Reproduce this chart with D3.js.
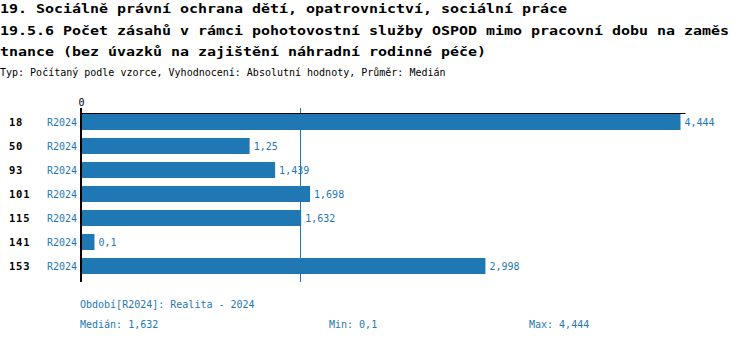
<!DOCTYPE html>
<html><head><meta charset="utf-8">
<script src="https://cdn.jsdelivr.net/npm/d3@7"></script>
<style>
html,body{margin:0;padding:0;background:#fff;}
svg{display:block;}
text{font-family:"DejaVu Sans Mono","Liberation Mono",monospace;}
</style></head>
<body>
<script>
const titleLines = [
  "19. Sociálně právní ochrana dětí, opatrovnictví, sociální práce",
  "19.5.6 Počet zásahů v rámci pohotovostní služby OSPOD mimo pracovní dobu na zaměs",
  "tnance (bez úvazků na zajištění náhradní rodinné péče)"
];
const subtitle = "Typ: Počítaný podle vzorce, Vyhodnocení: Absolutní hodnoty, Průměr: Medián";
const categories = ["18", "50", "93", "101", "115", "141", "153"];
const seriesName = "R2024";
const values = [4.444, 1.25, 1.439, 1.698, 1.632, 0.1, 2.998];
const periodNote = "Období[R2024]: Realita - 2024";
const axisTicks = [0];

const W = 750, H = 342;
const blue = "#1f77b4";
const fmt = v => String(v).replace(".", ",");

const svg = d3.select("body").append("svg").attr("width", W).attr("height", H);

// titles
const tBase = [13, 34.5, 56];
titleLines.forEach((t, i) => {
  svg.append("text").attr("x", 0).attr("y", tBase[i])
    .attr("font-size", 12.5).attr("font-weight", "bold").attr("fill", "#000")
    .attr("textLength", t.length * 9).attr("lengthAdjust", "spacingAndGlyphs")
    .text(t);
});
svg.append("text").attr("x", 0).attr("y", 76).attr("font-size", 10).attr("fill", "#000").text(subtitle);

const x = d3.scaleLinear().domain([0, d3.max(values)]).range([81, 680.5]);
const y = d3.scaleBand().domain(categories).range([110, 278]).paddingInner(1/3).paddingOuter(1/6);

const med = d3.median(values), mn = d3.min(values), mx = d3.max(values);

// median line
svg.append("line").attr("x1", Math.round(x(med)) - 0.5).attr("x2", Math.round(x(med)) - 0.5)
  .attr("y1", 108).attr("y2", 282).attr("stroke", blue).attr("stroke-width", 1);

// bars
svg.selectAll("rect.bar").data(values).enter().append("rect")
  .attr("x", x(0)).attr("y", (d, i) => y(categories[i]))
  .attr("width", d => x(d) - x(0)).attr("height", y.bandwidth()).attr("fill", blue);

// value labels
svg.selectAll("text.val").data(values).enter().append("text")
  .attr("x", d => x(d) + 4).attr("y", (d, i) => y(categories[i]) + y.bandwidth() / 2 + 4)
  .attr("font-size", 10).attr("fill", blue).text(d => fmt(d));

// series labels
svg.selectAll("text.ser").data(categories).enter().append("text")
  .attr("x", 77).attr("y", d => y(d) + y.bandwidth() / 2 + 4)
  .attr("text-anchor", "end").attr("font-size", 10).attr("fill", blue).text(seriesName);

// category labels
svg.selectAll("text.cat").data(categories).enter().append("text")
  .attr("x", 9).attr("y", d => y(d) + y.bandwidth() / 2 + 4)
  .attr("font-size", 10.5).attr("font-weight", "bold").attr("fill", "#000")
  .attr("letter-spacing", 0.8).text(d => d);

// top axis
const axis = svg.append("g").attr("transform", "translate(0,113.5)")
  .call(d3.axisTop(x).tickValues(axisTicks).tickFormat(d => fmt(d)).tickSize(0).tickPadding(8));
axis.select(".domain").remove();
axis.selectAll("text").attr("font-size", 10).attr("font-family", "DejaVu Sans Mono").attr("fill", "#000");
svg.append("line").attr("x1", x(0)).attr("x2", x(mx) + 5).attr("y1", 113.5).attr("y2", 113.5)
  .attr("stroke", "#000").attr("stroke-width", 1);
svg.append("line").attr("x1", x(0)).attr("x2", x(0)).attr("y1", 108).attr("y2", 282)
  .attr("stroke", "#000").attr("stroke-width", 2);

// footer
svg.append("text").attr("x", 80).attr("y", 308).attr("font-size", 10).attr("fill", blue).text(periodNote);
svg.append("text").attr("x", 80).attr("y", 328).attr("font-size", 10).attr("fill", blue).text("Medián: " + fmt(med));
svg.append("text").attr("x", 329).attr("y", 328).attr("font-size", 10).attr("fill", blue).text("Min: " + fmt(mn));
svg.append("text").attr("x", 529).attr("y", 328).attr("font-size", 10).attr("fill", blue).text("Max: " + fmt(mx));
</script>
</body></html>
